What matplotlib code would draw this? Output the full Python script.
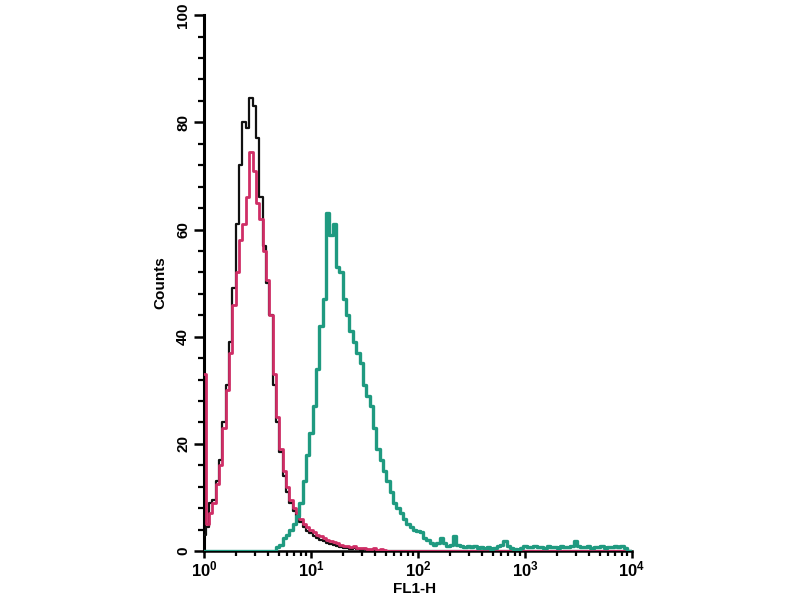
import numpy as np
import matplotlib
matplotlib.use("Agg")
import matplotlib.pyplot as plt
from matplotlib.ticker import FixedLocator, FixedFormatter, NullFormatter

# ---- data: counts per channel, 32 channels per decade, 10^0 .. 10^4 ----
channels_per_decade = 32
n_channels = 129

isotype_black = ([3, 4.5, 9, 9.5, 13, 17, 24, 31, 39, 49, 61, 72, 80, 79, 84.5, 83,
                  77, 66, 57, 50, 44, 31, 24, 18.5, 14, 11, 9, 7.5, 6.5, 5.5, 4.5, 3.8,
                  3.3, 2.8, 2.4, 2.1, 1.8, 1.5, 1.3, 1.1, 1.0, 0.8, 0.6, 0.5, 0.4, 0.5,
                  0.3, 0.2, 0.3, 0.1] + [0.0] * 79)

unstained_pink = ([33, 5, 7, 9, 12.5, 16, 23, 30, 37, 46, 52, 58, 61, 66, 74.5, 71,
                   65, 62, 56, 50.5, 44, 33, 25, 19, 15, 12, 9.5, 8, 7, 6, 5, 4.5,
                   4, 3.5, 3, 2.8, 2.4, 2, 1.8, 1.6, 1.5, 1.2, 1.0, 1.0, 0.8, 1.0,
                   0.6, 0.5, 0.5, 0.4, 0.3, 0.5, 0.2, 0.3, 0.1] + [0.0] * 74)

stained_teal = ([0.0] * 22 +
                [0.8, 1.2, 2.5, 3, 4, 5, 6.5, 9, 13, 18, 22, 27, 34, 42, 47, 63,
                 59, 61, 53, 52, 47, 44, 41, 39, 37, 35, 31, 29, 27, 23, 19, 17,
                 15, 13, 11, 9, 8, 7, 6, 5, 4.5, 4, 3.8, 3.5, 2.5, 2, 1.5, 1.2,
                 1.5, 2.5, 1.5, 1, 1.2, 2.8, 1.2, 1,
                 0.8, 1.0, 0.7, 0.9, 0.6, 0.8, 0.5, 0.7, 0.4, 0.6, 0.9, 1.2, 1.8,
                 0.9, 0.6, 0.3, 0.2, 0.6, 0.9, 0.7, 0.8, 0.9, 0.7, 0.8, 0.6, 0.9,
                 0.7, 0.8, 0.6, 0.9, 0.7, 0.8, 1.0, 1.8, 1.0, 0.8, 0.7, 0.9, 0.6,
                 0.8, 0.7, 0.9, 0.6, 0.8, 0.7, 0.9, 0.7, 1.0, 0.6, 0.0, 0.0])

y_ticks = [0, 20, 40, 60, 80, 100]
x_ticks = [1, 10, 100, 1000, 10000]
x_tick_labels = [r"$\mathbf{10^{0}}$", r"$\mathbf{10^{1}}$", r"$\mathbf{10^{2}}$",
                 r"$\mathbf{10^{3}}$", r"$\mathbf{10^{4}}$"]
x_label = "FL1-H"
y_label = "Counts"

# ---- plotting ----
plt.rcParams['font.family'] = ['Liberation Sans', 'DejaVu Sans']
plt.rcParams['mathtext.fontset'] = 'custom'
plt.rcParams['mathtext.rm'] = 'Liberation Sans'
plt.rcParams['mathtext.bf'] = 'Liberation Sans:bold'

x = 10 ** (np.arange(n_channels) / channels_per_decade)

fig = plt.figure(figsize=(8, 6), dpi=100)
ax = fig.add_axes([0.255, 0.0817, 0.535, 0.893])

ax.step(x, isotype_black, where='mid', color='#111111', lw=1.6, zorder=3)
ax.step(x, unstained_pink, where='mid', color='#cf2e66', lw=2.0, zorder=4)
ax.step(x, stained_teal, where='mid', color='#1f9a80', lw=2.4, zorder=5)

ax.set_xscale('log')
ax.set_xlim(1, 10000)
ax.set_ylim(0, 100)

for s in ['top', 'right']:
    ax.spines[s].set_visible(False)
ax.spines['left'].set_linewidth(2.2)
ax.spines['bottom'].set_linewidth(1.8)

ax.yaxis.set_major_locator(FixedLocator(y_ticks))
ax.yaxis.set_minor_locator(FixedLocator(np.arange(0, 101, 4)))
ax.set_yticklabels([str(v) for v in y_ticks], rotation=90, va='center',
                   fontsize=11, fontweight='bold')
ax.xaxis.set_major_locator(FixedLocator(x_ticks))
ax.xaxis.set_major_formatter(FixedFormatter(x_tick_labels))
minor = [m * 10 ** d for d in range(4) for m in range(2, 10)]
ax.xaxis.set_minor_locator(FixedLocator(minor))
ax.xaxis.set_minor_formatter(NullFormatter())
ax.tick_params(axis='y', which='major', direction='out', length=7, width=1.8,
               labelsize=11, pad=3)
ax.tick_params(axis='y', which='minor', direction='out', length=4, width=1.6)
ax.tick_params(axis='x', which='major', direction='out', length=5, width=1.8,
               labelsize=12, pad=1)
ax.tick_params(axis='x', which='minor', direction='out', length=3.5, width=1.6)

ax.set_ylabel(y_label, fontsize=11, fontweight='bold', labelpad=6)
ax.text(0.442, -0.071, x_label, transform=ax.transAxes, fontsize=11,
        fontweight='bold', ha='left', va='center')

fig.savefig("out.png", dpi=100)
